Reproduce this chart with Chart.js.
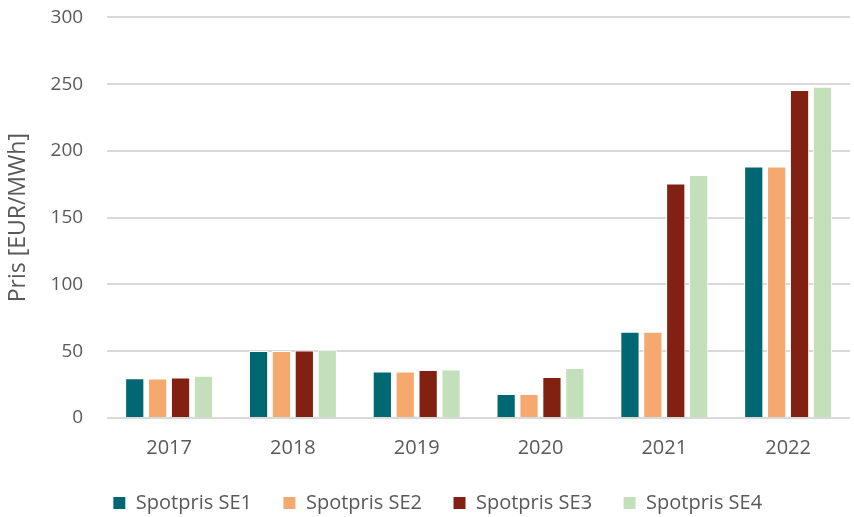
<!DOCTYPE html>
<html>
<head>
<meta charset="utf-8">
<script src="https://cdn.jsdelivr.net/npm/chart.js@4"></script>
<style>
  html, body { margin: 0; padding: 0; background: #fff; }
  #wrap { width: 854px; height: 517px; }
</style>
</head>
<body>
<div id="wrap"><canvas id="prisChart"></canvas></div>
<script>
const years = ['2017', '2018', '2019', '2020', '2021', '2022'];
const se1 = [29.7, 50.1, 34.9, 18.0, 64.6, 188.4];
const se2 = [29.6, 50.1, 34.8, 17.9, 64.6, 188.4];
const se3 = [30.4, 50.6, 35.9, 30.7, 175.7, 245.7];
const se4 = [31.7, 51.1, 36.4, 37.4, 181.9, 248.0];
const yTicks = [0, 50, 100, 150, 200, 250, 300];

const tickColor = '#595959';
const fontFam = "'Open Sans', 'Liberation Sans', sans-serif";

function ds(label, data, color) {
  return {
    label: label,
    data: data,
    backgroundColor: color,
    borderColor: '#ffffff',
    borderWidth: 1,
    barPercentage: 0.84,
    categoryPercentage: 0.74
  };
}

// legend in the original sits a little right of the canvas centre
const nudgeLegend = {
  id: 'nudgeLegend',
  afterLayout(chart) {
    if (chart.legend) {
      chart.legend.left += 10;
      chart.legend.right += 10;
    }
  }
};

new Chart(document.getElementById('prisChart').getContext('2d'), {
  type: 'bar',
  data: {
    labels: years,
    datasets: [
      ds('Spotpris SE1', se1, '#006872'),
      ds('Spotpris SE2', se2, '#f5a96f'),
      ds('Spotpris SE3', se3, '#822012'),
      ds('Spotpris SE4', se4, '#c3e0bb')
    ]
  },
  options: {
    responsive: true,
    maintainAspectRatio: false,
    animation: false,
    layout: { padding: { left: 5, right: 4, top: 8, bottom: -6 } },
    scales: {
      x: {
        grid: { display: false, drawTicks: false },
        border: { display: false },
        ticks: { color: tickColor, font: { family: fontFam, size: 20 }, padding: 18 },
        afterFit: axis => { axis.height = 44; }
      },
      y: {
        min: 0,
        max: 300,
        afterBuildTicks: axis => { axis.ticks = yTicks.map(v => ({ value: v })); },
        afterFit: axis => { axis.width += 12; },
        grid: { color: '#d9d9d9', lineWidth: 2, drawTicks: true, tickLength: 18, tickColor: 'rgba(0,0,0,0)' },
        border: { display: false },
        ticks: { color: tickColor, font: { family: fontFam, size: 19 }, padding: 6 },
        title: {
          display: true,
          text: 'Pris [EUR/MWh]',
          color: tickColor,
          font: { family: fontFam, size: 23 },
          padding: { top: 0, bottom: 0 }
        }
      }
    },
    plugins: {
      legend: {
        position: 'bottom',
        labels: {
          color: tickColor,
          font: { family: fontFam, size: 20 },
          boxWidth: 13,
          boxHeight: 13,
          padding: 31
        }
      },
      tooltip: { enabled: false }
    }
  },
  plugins: [nudgeLegend]
});
</script>
</body>
</html>
